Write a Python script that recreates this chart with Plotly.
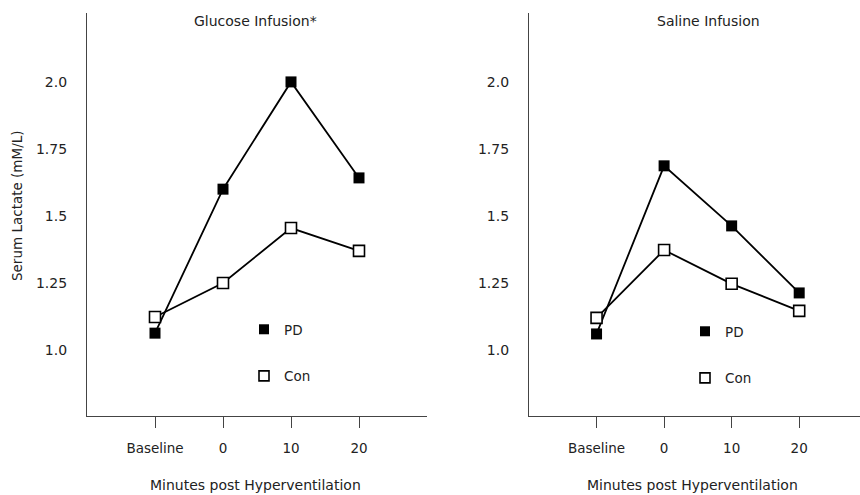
import plotly.graph_objects as go

categories = ["Baseline", "0", "10", "20"]
glucose_pd = [1.063, 1.60, 2.0, 1.642]
glucose_con = [1.123, 1.25, 1.455, 1.37]
saline_pd = [1.06, 1.687, 1.463, 1.213]
saline_con = [1.12, 1.373, 1.247, 1.146]
ytick_vals = [1.0, 1.25, 1.5, 1.75, 2.0]
ytick_text = ["1.0", "1.25", "1.5", "1.75", "2.0"]
panel_titles = ["Glucose Infusion*", "Saline Infusion"]
x_title = "Minutes post Hyperventilation"
y_title = "Serum Lactate (mM/L)"

FONT = "DejaVu Sans"
xs = list(range(len(categories)))

fig = go.Figure()

def add_panel(xa, ya, pd_vals, con_vals, legend):
    fig.add_trace(go.Scatter(x=xs, y=pd_vals, xaxis=xa, yaxis=ya, mode="lines+markers",
                             line=dict(color="black", width=1.8),
                             marker=dict(symbol="square", size=11, color="black"),
                             showlegend=False, cliponaxis=False))
    fig.add_trace(go.Scatter(x=xs, y=con_vals, xaxis=xa, yaxis=ya, mode="lines+markers",
                             line=dict(color="black", width=1.8),
                             marker=dict(symbol="square", size=11, color="white",
                                         line=dict(color="black", width=1.6)),
                             showlegend=False, cliponaxis=False))
    fig.add_trace(go.Scatter(x=[None], y=[None], xaxis=xa, yaxis=ya, mode="markers", name="PD",
                             marker=dict(symbol="square", size=10, color="black"),
                             legend=legend, legendgroup=legend + "pd"))
    fig.add_trace(go.Scatter(x=[None], y=[None], xaxis=xa, yaxis=ya, mode="markers", name="Con",
                             marker=dict(symbol="square", size=10, color="white",
                                         line=dict(color="black", width=1.6)),
                             legend=legend, legendgroup=legend + "con"))

add_panel("x", "y", glucose_pd, glucose_con, "legend")
add_panel("x2", "y2", saline_pd, saline_con, "legend2")

ydom = [(495 - 416) / 495, (495 - 13) / 495]
axis_col = "#444444"

xcommon = dict(range=[-1, 4], tickmode="array", tickvals=xs, ticktext=categories,
               showline=True, linecolor=axis_col, linewidth=1.3, showgrid=False, zeroline=False,
               ticks="outside", ticklen=11, tickwidth=1.3, tickcolor=axis_col,
               ticklabelstandoff=9,
               tickfont=dict(family=FONT, size=13.5, color="#222"))
ycommon = dict(range=[0.754, 2.257], tickmode="array", tickvals=ytick_vals, ticktext=ytick_text,
               showline=True, linecolor=axis_col, linewidth=1.3, showgrid=False, zeroline=False,
               ticks="", ticklabelstandoff=16,
               tickfont=dict(family=FONT, size=14, color="#222"))

legcommon = dict(bgcolor="rgba(0,0,0,0)", font=dict(family=FONT, size=13.5, color="#222"),
                 tracegroupgap=26, itemwidth=30, xanchor="left", yanchor="top")

fig.update_layout(
    width=860, height=495,
    margin=dict(l=0, r=0, t=0, b=0),
    plot_bgcolor="white", paper_bgcolor="white",
    xaxis=dict(domain=[87 / 860, 427 / 860], anchor="y", **xcommon),
    yaxis=dict(domain=ydom, anchor="x", **ycommon),
    xaxis2=dict(domain=[529 / 860, 1.0], anchor="y2", **{**xcommon, "range": [-1, 3.9]}),
    yaxis2=dict(domain=ydom, anchor="x2", **ycommon),
    legend=dict(x=244 / 860, y=(495 - 314) / 495, **legcommon),
    legend2=dict(x=685 / 860, y=(495 - 316) / 495, **legcommon),
)

annots = [
    dict(text=panel_titles[0], x=255, y=21),
    dict(text=panel_titles[1], x=708, y=21),
    dict(text=x_title, x=255, y=485),
    dict(text=x_title, x=692, y=485),
]
for a in annots:
    fig.add_annotation(text=a["text"], xref="paper", yref="paper",
                       x=a["x"] / 860, y=(495 - a["y"]) / 495,
                       showarrow=False, xanchor="center", yanchor="middle",
                       font=dict(family=FONT, size=14, color="#222"))
fig.add_annotation(text=y_title, xref="paper", yref="paper", x=17 / 860, y=(495 - 206) / 495,
                   showarrow=False, textangle=-90, xanchor="center", yanchor="middle",
                   font=dict(family=FONT, size=13.5, color="#222"))

fig.write_html("out.html", config={"displayModeBar": False},
               post_script="document.body.style.margin='0px';")
